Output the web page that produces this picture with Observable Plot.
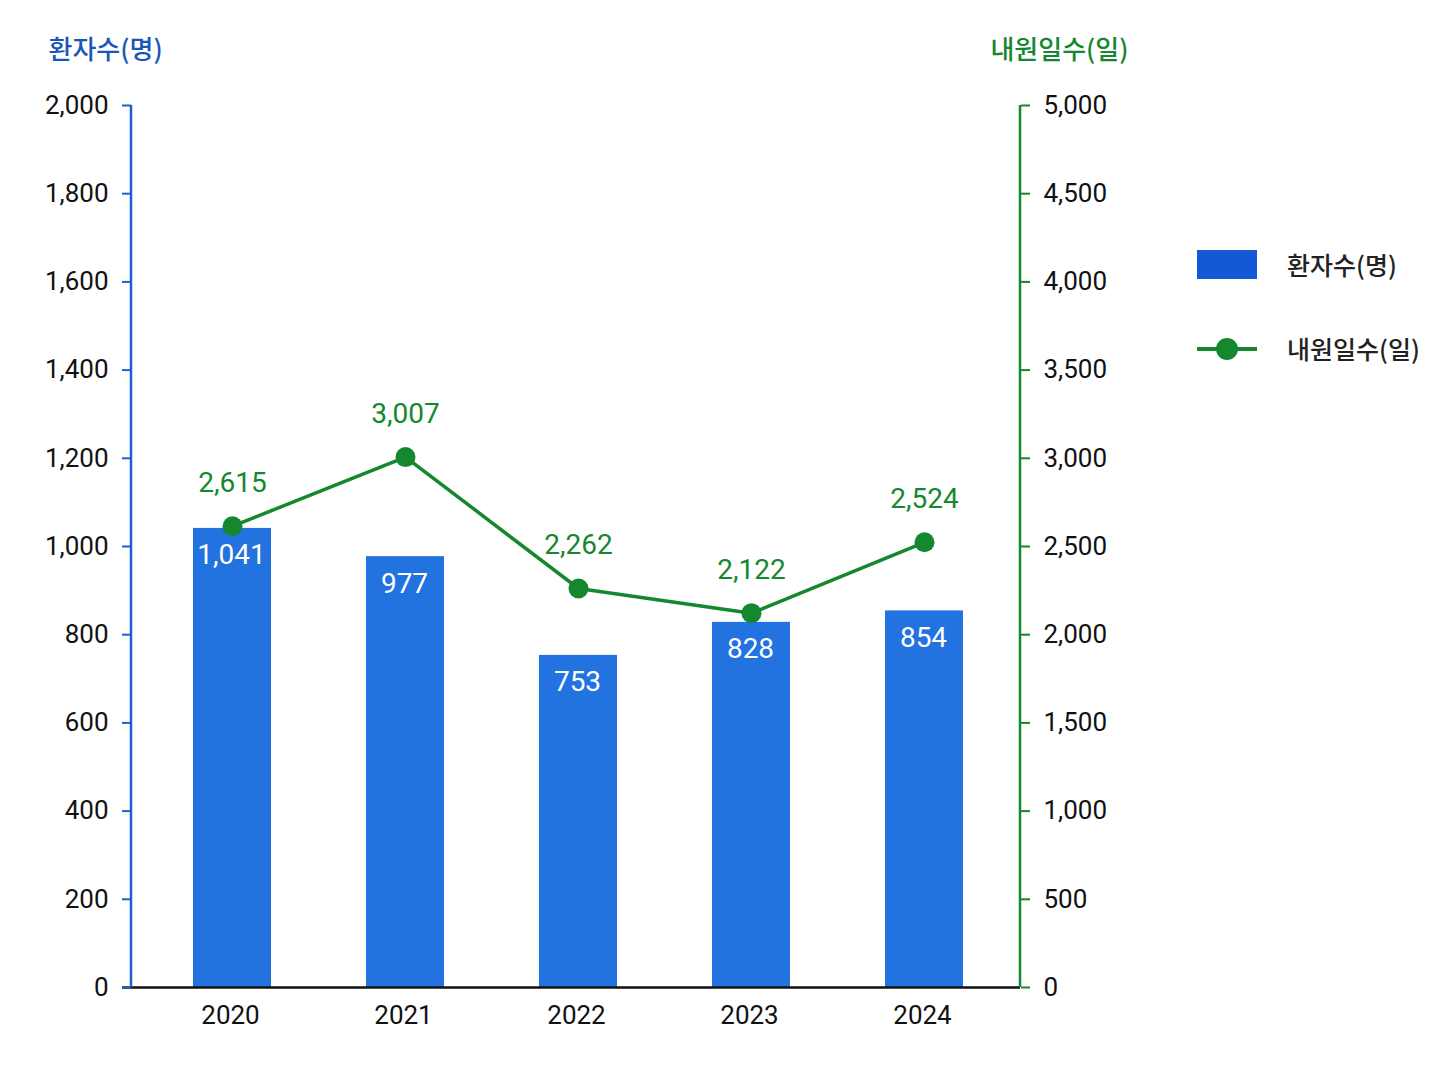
<!DOCTYPE html>
<html>
<head>
<meta charset="utf-8">
<script src="https://cdn.jsdelivr.net/npm/d3@7"></script>
<script src="https://cdn.jsdelivr.net/npm/@observablehq/plot@0.6"></script>
<style>
  html, body { margin: 0; padding: 0; background: #ffffff; }
  #wrap { position: relative; width: 1448px; height: 1086px; font-family: Roboto, "Noto Sans CJK KR", sans-serif; }
  #legend { position: absolute; left: 1197px; top: 246px; font-family: "Noto Sans CJK KR", sans-serif; font-size: 25px; font-weight: 500; color: #222; }
  .li { display: flex; align-items: center; height: 36px; margin-bottom: 48px; }
  .sw { width: 60px; height: 29px; background: #1558d6; margin-right: 30px; }
  .ln { position: relative; width: 60px; height: 29px; margin-right: 30px; }
  .ln .bar { position: absolute; left: 0; right: 0; top: 13px; height: 4px; background: #15872f; }
  .ln .pt { position: absolute; left: 19px; top: 4px; width: 22px; height: 22px; border-radius: 50%; background: #15872f; }
</style>
</head>
<body>
<div id="wrap"></div>
<script>
const years = ["2020", "2021", "2022", "2023", "2024"];
const patients = [1041, 977, 753, 828, 854];
const visitDays = [2615, 3007, 2262, 2122, 2524];
const leftTicks = [0, 200, 400, 600, 800, 1000, 1200, 1400, 1600, 1800, 2000];
const leftMax = 2000;
const rightMax = 5000;
const leftTitle = "환자수(명)";
const rightTitle = "내원일수(일)";

const ratio = rightMax / leftMax;
const data = years.map((year, i) => ({year, patients: patients[i], visits: visitDays[i]}));
const fmt = d3.format(",");
const BLUE = "#2272e0";
const AXIS_BLUE = "#1f5fd0";
const GREEN = "#15872f";

function vline(side, color) {
  return (index, scales, values, dim) => {
    const x = side === "left" ? dim.marginLeft : dim.width - dim.marginRight;
    const l = d3.create("svg:line")
      .attr("x1", x).attr("x2", x)
      .attr("y1", dim.marginTop).attr("y2", dim.height - dim.marginBottom)
      .attr("stroke", color).attr("stroke-width", 2.5);
    return l.node();
  };
}

const chart = Plot.plot({
  width: 1448,
  height: 1086,
  marginTop: 105,
  marginBottom: 99,
  marginLeft: 131,
  marginRight: 428,
  style: {fontFamily: 'Roboto, "Noto Sans CJK KR", sans-serif', background: "#ffffff", color: "#111"},
  x: {domain: years, paddingInner: 0.55, paddingOuter: 0.34, axis: null, label: null},
  y: {domain: [0, leftMax], axis: null, label: null},
  marks: [
    Plot.barY(data, {x: "year", y: "patients", fill: BLUE, dx: 2}),
    Plot.ruleY([0], {stroke: "#111", strokeWidth: 2.5, insetLeft: -9}),
    vline("left", AXIS_BLUE),
    vline("right", GREEN),
    Plot.axisY({ticks: leftTicks, label: null, tickSize: 9, tickPadding: 14, stroke: AXIS_BLUE, strokeWidth: 2, fill: "#111", fontSize: 26, tickFormat: fmt}),
    Plot.axisY({anchor: "right", ticks: leftTicks, label: null, tickSize: 9, tickPadding: 14, stroke: GREEN, strokeWidth: 2, fill: "#111", fontSize: 26, tickFormat: d => fmt(d * ratio)}),
    Plot.axisX({label: null, tickSize: 0, tickPadding: 18, fontSize: 26, fill: "#111"}),
    Plot.text(data, {x: "year", y: "patients", text: d => fmt(d.patients), dx: 1, dy: 27, fill: "#ffffff", fontSize: 28}),
    Plot.line(data, {x: "year", y: d => d.visits / ratio, dx: 2, stroke: GREEN, strokeWidth: 3.5}),
    Plot.dot(data, {x: "year", y: d => d.visits / ratio, dx: 2, r: 10, fill: GREEN}),
    Plot.text(data, {x: "year", y: d => d.visits / ratio, text: d => fmt(d.visits), dx: 2, dy: -43, fill: GREEN, fontSize: 28}),
    Plot.text([leftTitle], {frameAnchor: "top-left", textAnchor: "start", dx: -83, dy: -65, fill: "#1a56b8", fontSize: 26, fontWeight: 500, fontFamily: '"Noto Sans CJK KR", sans-serif'}),
    Plot.text([rightTitle], {frameAnchor: "top-right", textAnchor: "end", dx: 108, dy: -65, fill: GREEN, fontSize: 26, fontWeight: 500, fontFamily: '"Noto Sans CJK KR", sans-serif'})
  ]
});

const wrap = document.getElementById("wrap");
wrap.appendChild(chart);
const legend = document.createElement("div");
legend.id = "legend";
legend.innerHTML = `
  <div class="li"><div class="sw"></div><span>${leftTitle}</span></div>
  <div class="li"><div class="ln"><div class="bar"></div><div class="pt"></div></div><span>${rightTitle}</span></div>`;
wrap.appendChild(legend);
</script>
</body>
</html>
